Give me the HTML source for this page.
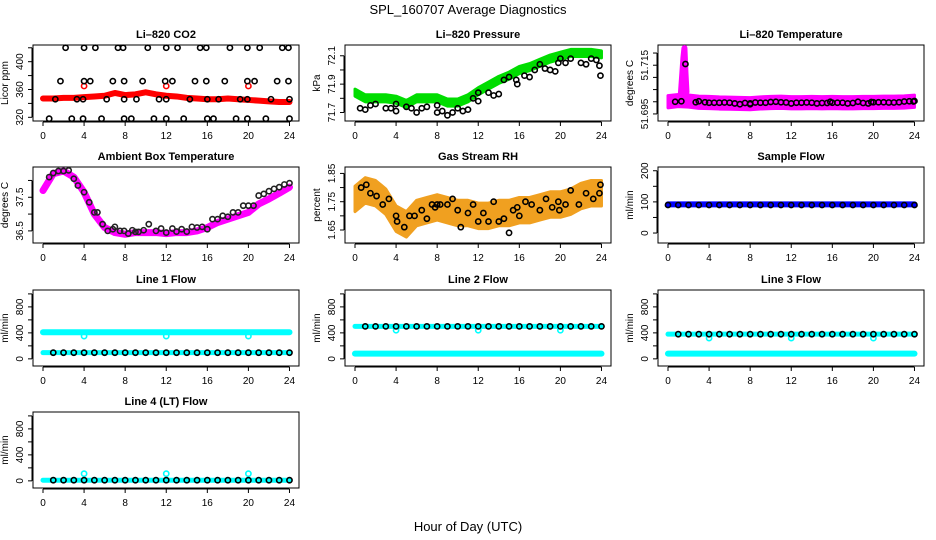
<!DOCTYPE html>
<html><head><meta charset="utf-8">
<style>
html,body{margin:0;padding:0;background:#fff;}
svg{display:block;font-family:"Liberation Sans",Arial,sans-serif;}
</style></head>
<body>
<svg id="chart" width="936" height="540" viewBox="0 0 936 540">
<text x="468" y="14" text-anchor="middle" font-size="13">SPL_160707  Average Diagnostics</text>
<text x="468" y="531" text-anchor="middle" font-size="13">Hour of Day (UTC)</text>
</svg>
<script>
// ---- data ----
var hours = [0,1,2,3,4,5,6,7,8,9,10,11,12,13,14,15,16,17,18,19,20,21,22,23,24];
var xTicks = [0,4,8,12,16,20,24];

var co2Red = [347,347,348,348,349,350,351,355,352,353,356,353,351,350,348,347,346,346,347,346,345,344,343,342,342];
var co2RedDotH = [4,12,20];
var co2RedDotV = [365,365,365];
var co2DotH = [2.2,4.0,5.1,7.3,7.8,10.2,12.0,13.1,15.3,15.9,18.2,19.9,21.1,23.3,23.9,
  1.7,4.0,4.6,6.8,7.9,9.7,11.9,12.6,14.8,15.9,17.7,19.9,20.6,22.8,23.9,
  1.2,3.3,3.9,6.2,7.9,9.1,11.3,12.0,14.3,16.0,17.1,19.2,19.9,22.2,24.0,
  0.6,2.8,3.9,5.7,7.9,8.6,10.8,12.0,13.7,16.0,16.6,18.8,19.9,21.7,24.0];
var co2DotV = [420,420,420,420,420,420,420,420,420,420,420,420,420,420,420,
  372,372,372,372,372,372,372,372,372,372,372,372,372,372,372,
  346,346,346,346,346,346,346,346,346,346,346,346,346,346,346,
  318,318,318,318,318,318,318,318,318,318,318,318,318,318,318];

var presGreen = [71.84,71.80,71.80,71.80,71.79,71.76,71.80,71.80,71.80,71.77,71.77,71.80,71.85,71.89,71.93,71.96,72.00,72.02,72.05,72.08,72.10,72.12,72.12,72.12,72.11];
var presDotH = [0.5,1,1.5,2,3,3.5,4,4,5,5.5,6,6.5,7,8,8,8.5,9,9.5,10,10.5,11,11.5,12,12,13,13.5,14,14.5,15,15.7,15.8,16.5,17,17.5,18,18.5,19,19.5,19.8,20,20.5,21,22,22.5,23,23.5,23.8,23.9];
var presDotV = [71.73,71.72,71.75,71.76,71.73,71.73,71.71,71.76,71.74,71.73,71.70,71.73,71.74,71.75,71.70,71.71,71.68,71.70,71.73,71.71,71.72,71.80,71.78,71.84,71.84,71.82,71.83,71.93,71.95,71.93,71.90,71.96,71.95,72.0,72.04,72.01,72.00,71.99,72.05,72.08,72.05,72.08,72.05,72.04,72.08,72.07,72.03,71.96];

var tempMag = [51.7000,51.7005,51.7003,51.6998,51.6997,51.6995,51.6994,51.6993,51.6992,51.6995,51.6997,51.6998,51.6996,51.6996,51.6997,51.6996,51.6997,51.6996,51.6996,51.6997,51.6997,51.6998,51.6998,51.6999,51.7002];
var tempSpikeH = [1.2,1.3,1.4,1.5,1.6,1.7,1.8];
var tempSpikeV = [51.700,51.706,51.712,51.718,51.722,51.712,51.704];
var tempDotH = [0.7,1.3,1.7,2.7,3,3.6,4,4.5,5,5.5,6,6.5,7,7.5,8,8,8.5,9,9.5,10,10.5,11,11.5,12,12.5,13,13.5,14,14.5,15,15.5,15.8,16,16.5,17,17.5,18,18.5,19,19.5,19.8,20,20.5,21,21.5,22,22.5,23,23.5,23.9,24];
var tempDotV = [51.7000,51.7002,51.7155,51.6998,51.7002,51.6998,51.6996,51.6996,51.6996,51.6997,51.6996,51.6993,51.6990,51.6995,51.6993,51.6990,51.6997,51.6996,51.6996,51.6999,51.7000,51.6998,51.6997,51.6993,51.6996,51.6996,51.6997,51.6996,51.6993,51.6995,51.6995,51.7000,51.6996,51.6996,51.6996,51.6993,51.6995,51.7000,51.6995,51.6993,51.6999,51.6998,51.6998,51.6998,51.6997,51.6997,51.6998,51.7001,51.7002,51.7001,51.7003];

var ambMag = [37.70,38.20,38.28,38.10,37.65,37.00,36.60,36.45,36.40,36.45,36.45,36.45,36.42,36.45,36.45,36.50,36.60,36.75,36.85,36.95,37.05,37.30,37.45,37.62,37.80];
var ambDotH = [0.6,1,1.5,2,2.5,3,3.4,4,4.5,5,5.3,5.8,6.3,6.8,7,7.5,7.9,8.3,8.7,9,9.3,9.8,10.3,11,11.5,12,12.6,13,13.5,14,14.5,15,15.5,16,16.5,17,17.5,18,18.5,19,19.5,20,20.5,21,21.5,22,22.5,23,23.5,24];
var ambDotV = [38.10,38.22,38.28,38.28,38.30,38.05,37.85,37.65,37.35,37.05,37.05,36.7,36.5,36.55,36.62,36.5,36.5,36.42,36.52,36.47,36.47,36.52,36.70,36.50,36.57,36.45,36.57,36.48,36.55,36.48,36.62,36.6,36.62,36.55,36.85,36.85,36.95,36.92,37.05,37.05,37.25,37.25,37.25,37.55,37.6,37.68,37.75,37.80,37.88,37.92];

var rhMid = [1.76,1.79,1.78,1.75,1.69,1.67,1.71,1.72,1.73,1.72,1.71,1.71,1.70,1.70,1.71,1.71,1.72,1.72,1.73,1.74,1.74,1.75,1.77,1.78,1.78];
var rhDotH = [0.6,1.1,1.5,2.1,2.7,3.3,4,4.1,4.8,5.3,5.8,6.5,7,7.5,7.8,8,8.3,9,9.5,10,10.3,11,11.5,12,12.5,13,13.5,14,14.5,15,15.4,15.8,16,16.6,17.2,18,18.6,19.2,19.8,19.9,20.5,21,21.8,22.5,23.2,23.8,23.9];
var rhDotV = [1.80,1.81,1.78,1.77,1.74,1.76,1.70,1.68,1.66,1.70,1.70,1.72,1.69,1.74,1.73,1.74,1.74,1.74,1.76,1.72,1.66,1.71,1.74,1.68,1.71,1.68,1.75,1.68,1.69,1.64,1.72,1.73,1.70,1.75,1.74,1.72,1.76,1.73,1.75,1.72,1.74,1.79,1.74,1.78,1.76,1.78,1.81];

var sampleBlue = [92,92,92,92,92,92,92,92,92,92,92,92,92,92,92,92,92,92,92,92,92,92,92,92,92];
var sampleBlack = [90,90,90,90,90,90,90,90,90,90,90,90,90,90,90,90,90,90,90,90,90,90,90,90,90];

var l1Upper = [410,410,410,410,410,410,410,410,410,410,410,410,410,410,410,410,410,410,410,410,410,410,410,410,410];
var l1Lower = [95,95,95,95,95,95,95,95,95,95,95,95,95,95,95,95,95,95,95,95,95,95,95,95,95];
var l2Upper = [500,500,500,500,500,500,500,500,500,500,500,500,500,500,500,500,500,500,500,500,500,500,500,500,500];
var l2Lower = [80,80,80,80,80,80,80,80,80,80,80,80,80,80,80,80,80,80,80,80,80,80,80,80,80];
var l3Upper = [380,380,380,380,380,380,380,380,380,380,380,380,380,380,380,380,380,380,380,380,380,380,380,380,380];
var l3Lower = [80,80,80,80,80,80,80,80,80,80,80,80,80,80,80,80,80,80,80,80,80,80,80,80,80];
var l4Base = [10,10,10,10,10,10,10,10,10,10,10,10,10,10,10,10,10,10,10,10,10,10,10,10,10];
var dipH = [4,12,20];
var l1Dip = [350,350,350];
var l2Dip = [440,440,440];
var l3Dip = [320,320,320];
var l4Dip = [110,110,110];

// ---- drawing ----
var NS = "http://www.w3.org/2000/svg";
var svg = document.getElementById("chart");
var colX0 = [43,355,668], PXH = 10.27, rowTop = [45,167,290,412], BH = 76;

function mk(tag, attrs, parent){
  var e = document.createElementNS(NS, tag);
  for (var k in attrs) e.setAttribute(k, attrs[k]);
  parent.appendChild(e);
  return e;
}

function panel(name, col, row, ylim, yticks, ylabs, title, ylab){
  var g = mk("g", {}, svg);
  
  
  var x0 = colX0[col], top = rowTop[row], bot = top + BH;
  var P = {
    g: g,
    x: function(h){ return x0 + h * PXH; },
    y: function(v){ return bot - (v - ylim[0]) / (ylim[1] - ylim[0]) * BH; }
  };
  var L = x0 - 10, R = x0 + 256;
  var box = mk("rect", {x:L, y:top, width:R-L, height:BH, fill:"none", stroke:"#000", "stroke-width":1}, g);
  
  
  var t = mk("text", {x:(L+R)/2, y:top-7, "text-anchor":"middle", "font-size":11, "font-weight":"bold"}, g);
  t.textContent = title;
  
  
  var xa = mk("g", {}, g);
  
  
  mk("line", {x1:P.x(xTicks[0]), x2:P.x(xTicks[xTicks.length-1]), y1:bot+1, y2:bot+1, stroke:"#000"}, xa);
  xTicks.forEach(function(h){
    mk("line", {x1:P.x(h), x2:P.x(h), y1:bot+1, y2:bot+5, stroke:"#000"}, xa);
    var tl = mk("text", {x:P.x(h), y:bot+18, "text-anchor":"middle", "font-size":10}, xa);
    tl.textContent = h;
    
    
  });
  var ya = mk("g", {}, g);
  
  
  mk("line", {x1:L-1, x2:L-1, y1:P.y(yticks[0]), y2:P.y(yticks[yticks.length-1]), stroke:"#000"}, ya);
  yticks.forEach(function(v){
    mk("line", {x1:L-5, x2:L-1, y1:P.y(v), y2:P.y(v), stroke:"#000"}, ya);
  });
  ylabs.forEach(function(v){
    var yy = P.y(v), tx = L - 10;
    var tl = mk("text", {x:tx, y:yy, "text-anchor":"middle", "font-size":10, transform:"rotate(-90 "+tx+" "+yy+")"}, ya);
    tl.textContent = v;
    
    
  });
  var lx = L - 25;
  var yl = mk("text", {x:lx, y:(top+bot)/2, "text-anchor":"middle", "font-size":10, transform:"rotate(-90 "+lx+" "+((top+bot)/2)+")"}, g);
  yl.textContent = ylab;
  
  
  P.plot = mk("g", {}, g);
  return P;
}

function thickLine(P, hs, vs, color, w, nm){
  var pts = hs.map(function(h,i){ return P.x(h)+","+P.y(vs[i]); }).join(" ");
  var pl = mk("polyline", {points:pts, fill:"none", stroke:color, "stroke-width":w, "stroke-linejoin":"round", "stroke-linecap":"round"}, P.plot);
  
  
}
function band(P, hs, vs, half, color, nm){
  var up = hs.map(function(h,i){ return P.x(h)+","+P.y(vs[i]+half); });
  var dn = hs.map(function(h,i){ return P.x(h)+","+P.y(vs[i]-half); }).reverse();
  var pg = mk("polygon", {points:up.concat(dn).join(" "), fill:color, stroke:color, "stroke-width":3, "stroke-linejoin":"round"}, P.plot);
  
  
}
function dots(P, hs, vs, color, nm, r){
  var g = mk("g", {}, P.plot);
  
  
  hs.forEach(function(h,i){
    var c = mk("circle", {cx:P.x(h), cy:P.y(vs[i]), r:r||2.6, fill:"none", stroke:color, "stroke-width":1.6}, g);
    
    
  });
}

var p = panel("co2", 0, 0, [314.7,424], [320,340,360,380,400,420], [320,360,400], "Li\u2013820 CO2", "Licor ppm");
thickLine(p, hours, co2Red, "#ff0000", 6, "co2-red-series");
dots(p, co2RedDotH, co2RedDotV, "#ff0000", "co2-red-outliers");
dots(p, co2DotH, co2DotV, "#000", "co2-black-series");

p = panel("pressure", 1, 0, [71.64,72.176], [71.7,71.8,71.9,72.0,72.1], [71.7,71.9,72.1], "Li\u2013820 Pressure", "kPa");
band(p, hours, presGreen, 0.025, "#00dd00", "pressure-green-series");
dots(p, presDotH, presDotV, "#000", "pressure-black-series");

p = panel("temperature", 2, 0, [51.6921,51.7233], [51.695,51.700,51.705,51.710,51.715,51.720], [51.695,51.715], "Li\u2013820 Temperature", "degrees C");
band(p, hours, tempMag, 0.0025, "#ff00ff", "temperature-magenta-series");
thickLine(p, tempSpikeH, tempSpikeV, "#ff00ff", 6, "temperature-magenta-spike");
dots(p, tempDotH, tempDotV, "#000", "temperature-black-series");

p = panel("ambient", 0, 1, [36.14,38.4], [36.5,37.0,37.5,38.0], [36.5,37.5], "Ambient Box Temperature", "degrees C");
thickLine(p, hours, ambMag, "#ff00ff", 7, "ambient-magenta-series");
dots(p, ambDotH, ambDotV, "#222", "ambient-black-series");

p = panel("rh", 1, 1, [1.604,1.8727], [1.65,1.70,1.75,1.80,1.85], [1.65,1.75,1.85], "Gas Stream RH", "percent");
band(p, hours, rhMid, 0.045, "#f0a020", "rh-orange-series");
dots(p, rhDotH, rhDotV, "#000", "rh-black-series");

p = panel("sample-flow", 2, 1, [-32,212], [0,50,100,150,200], [0,100,200], "Sample Flow", "ml/min");
thickLine(p, hours, sampleBlue, "#0000ff", 6, "sample-flow-blue-series");
dots(p, hours, sampleBlack, "#000", "sample-flow-black-series");

var fT = [0,200,400,600,800,1000], fL = [0,400,800];
p = panel("line1-flow", 0, 2, [-110,1060], fT, fL, "Line 1 Flow", "ml/min");
thickLine(p, hours, l1Upper, "#00ffff", 6, "line1-cyan-upper");
thickLine(p, hours, l1Lower, "#00ffff", 5, "line1-cyan-lower");
dots(p, dipH, l1Dip, "#00ffff", "line1-cyan-dips");
dots(p, hours.slice(1), l1Lower.slice(1), "#000", "line1-black-series");

p = panel("line2-flow", 1, 2, [-110,1060], fT, fL, "Line 2 Flow", "ml/min");
thickLine(p, hours, l2Upper, "#00ffff", 5, "line2-cyan-upper");
thickLine(p, hours, l2Lower, "#00ffff", 6, "line2-cyan-lower");
dots(p, dipH, l2Dip, "#00ffff", "line2-cyan-dips");
dots(p, hours.slice(1), l2Upper.slice(1), "#000", "line2-black-series");

p = panel("line3-flow", 2, 2, [-110,1060], fT, fL, "Line 3 Flow", "ml/min");
thickLine(p, hours, l3Upper, "#00ffff", 5, "line3-cyan-upper");
thickLine(p, hours, l3Lower, "#00ffff", 6, "line3-cyan-lower");
dots(p, dipH, l3Dip, "#00ffff", "line3-cyan-dips");
dots(p, hours.slice(1), l3Upper.slice(1), "#000", "line3-black-series");

p = panel("line4-flow", 0, 3, [-110,1060], fT, fL, "Line 4 (LT) Flow", "ml/min");
thickLine(p, hours, l4Base, "#00ffff", 5, "line4-cyan-series");
dots(p, dipH, l4Dip, "#00ffff", "line4-cyan-spikes");
dots(p, hours.slice(1), l4Base.slice(1), "#000", "line4-black-series");
</script>
</body></html>
